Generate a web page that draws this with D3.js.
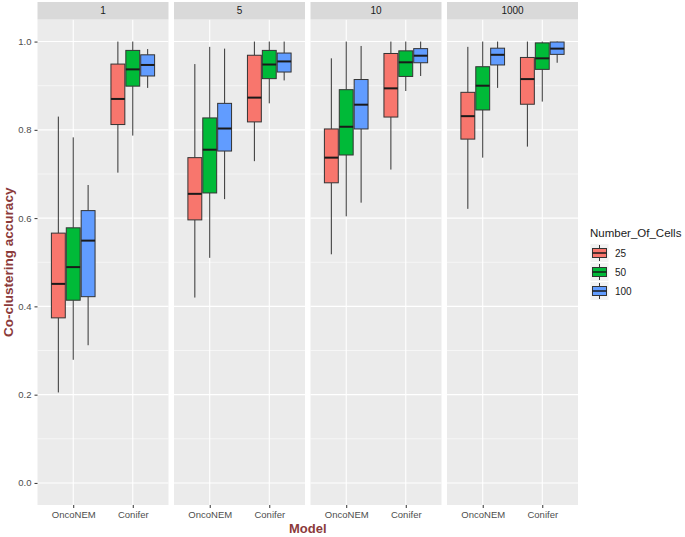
<!DOCTYPE html>
<html>
<head>
<meta charset="utf-8">
<script src="https://cdn.jsdelivr.net/npm/d3@7"></script>
<style>
  body { margin: 0; background: #fff; }
  svg { font-family: "Liberation Sans", Arial, sans-serif; }
</style>
</head>
<body>
<svg id="chart" width="685" height="537"></svg>
<script>
// facet / category / fill levels
var facets = ["1", "5", "10", "1000"];
var models = ["OncoNEM", "Conifer"];
var cells = ["25", "50", "100"];
var cellColors = ["#F8766D", "#00BA38", "#619CFF"];
var yTicks = [0, 0.2, 0.4, 0.6, 0.8, 1.0];

// box stats, order: facet > model > cells
var whiskerLow = [0.205, 0.279, 0.312, 0.703, 0.787, 0.895,
                  0.420, 0.510, 0.643, 0.729, 0.860, 0.912,
                  0.518, 0.604, 0.635, 0.710, 0.888, 0.922,
                  0.621, 0.737, 0.895, 0.762, 0.864, 0.952];
var q1 =         [0.374, 0.414, 0.422, 0.812, 0.899, 0.922,
                  0.596, 0.657, 0.752, 0.818, 0.916, 0.931,
                  0.680, 0.743, 0.802, 0.829, 0.921, 0.952,
                  0.779, 0.845, 0.947, 0.858, 0.937, 0.971];
var median =     [0.451, 0.489, 0.549, 0.870, 0.937, 0.947,
                  0.655, 0.755, 0.803, 0.873, 0.948, 0.955,
                  0.737, 0.807, 0.857, 0.894, 0.953, 0.968,
                  0.831, 0.900, 0.970, 0.915, 0.962, 0.984];
var q3 =         [0.566, 0.578, 0.617, 0.949, 0.980, 0.970,
                  0.737, 0.827, 0.860, 0.969, 0.980, 0.974,
                  0.802, 0.891, 0.914, 0.973, 0.979, 0.984,
                  0.885, 0.943, 0.985, 0.964, 0.997, 0.999];
var whiskerHigh = [0.830, 0.783, 0.675, 1.0, 1.0, 0.983,
                   0.949, 0.988, 0.984, 1.0, 1.0, 1.0,
                   0.962, 1.0, 0.990, 1.0, 1.0, 1.0,
                   0.988, 1.0, 1.0, 1.0, 1.0, 1.0];

var boxes = [];
var i = 0;
facets.forEach(function (f) {
    models.forEach(function (m) {
        cells.forEach(function (c) {
            boxes.push({facet: f, model: m, cell: c,
                lo: whiskerLow[i], q1: q1[i], med: median[i], q3: q3[i], hi: whiskerHigh[i]});
            i++;
        });
    });
});

var svg = d3.select("#chart");
var panelTop = 19.5, panelBottom = 505, stripTop = 2;

var fx = d3.scaleBand().domain(facets).range([37.5, 578]).paddingInner(5.5 / 136.5).paddingOuter(0);
var x = d3.scalePoint().domain(models).range([0, fx.bandwidth()]).padding(0.6);
var dodge = d3.scaleBand().domain(cells).range([-0.375 * x.step(), 0.375 * x.step()]);
var y = d3.scaleLinear().domain([-0.05, 1.05]).range([panelBottom, panelTop]);
var color = d3.scaleOrdinal().domain(cells).range(cellColors);

// -------------------------------------------------------------------
// panels
facets.forEach(function (f) {
    var g = svg.append("g").attr("transform", "translate(" + fx(f) + ",0)");
    var w = fx.bandwidth();

    g.append("rect").attr("x", 0).attr("y", panelTop).attr("width", w)
        .attr("height", panelBottom - panelTop).attr("fill", "#EBEBEB");

    // minor grid
    d3.range(0.1, 1.0, 0.2).forEach(function (v) {
        g.append("line").attr("x1", 0).attr("x2", w).attr("y1", y(v)).attr("y2", y(v))
            .attr("stroke", "#fff").attr("stroke-width", 0.55);
    });
    // major grid
    yTicks.forEach(function (v) {
        g.append("line").attr("x1", 0).attr("x2", w).attr("y1", y(v)).attr("y2", y(v))
            .attr("stroke", "#fff").attr("stroke-width", 1.1);
    });
    models.forEach(function (m) {
        g.append("line").attr("x1", x(m)).attr("x2", x(m)).attr("y1", panelTop).attr("y2", panelBottom)
            .attr("stroke", "#fff").attr("stroke-width", 1.1);
    });

    // strip
    g.append("rect").attr("x", 0).attr("y", stripTop).attr("width", w)
        .attr("height", panelTop - stripTop).attr("fill", "#D9D9D9");
    g.append("text").attr("x", w / 2).attr("y", (stripTop + panelTop) / 2 + 3.5)
        .attr("text-anchor", "middle").attr("font-size", 10).attr("fill", "#1A1A1A").text(f);

    // x axis
    var xAxis = g.append("g").attr("transform", "translate(0," + panelBottom + ")")
        .call(d3.axisBottom(x).tickSize(3).tickPadding(3));
    xAxis.select(".domain").remove();
    xAxis.selectAll("line").attr("stroke", "#333333");
    xAxis.selectAll("text").attr("font-size", 9.5).attr("fill", "#4D4D4D")
        .attr("font-family", "Liberation Sans, Arial, sans-serif");

    // boxes
    var bw = dodge.bandwidth();
    var b = g.selectAll("g.box").data(boxes.filter(function (d) { return d.facet === f; }))
        .enter().append("g").attr("class", "box")
        .attr("transform", function (d) { return "translate(" + (x(d.model) + dodge(d.cell)) + ",0)"; });

    b.append("line").attr("x1", bw / 2).attr("x2", bw / 2)
        .attr("y1", function (d) { return y(d.hi); }).attr("y2", function (d) { return y(d.q3); })
        .attr("stroke", "#333333").attr("stroke-width", 1);
    b.append("line").attr("x1", bw / 2).attr("x2", bw / 2)
        .attr("y1", function (d) { return y(d.q1); }).attr("y2", function (d) { return y(d.lo); })
        .attr("stroke", "#333333").attr("stroke-width", 1);
    b.append("rect").attr("x", 0.5).attr("width", bw - 1)
        .attr("y", function (d) { return y(d.q3); })
        .attr("height", function (d) { return Math.max(0.5, y(d.q1) - y(d.q3)); })
        .attr("fill", function (d) { return color(d.cell); })
        .attr("stroke", "#333333").attr("stroke-width", 1);
    b.append("line").attr("x1", 0.5).attr("x2", bw - 0.5)
        .attr("y1", function (d) { return y(d.med); }).attr("y2", function (d) { return y(d.med); })
        .attr("stroke", "#1A1A1A").attr("stroke-width", 2);
});

// y axis (left of first panel)
var yAxis = svg.append("g").attr("transform", "translate(" + fx(facets[0]) + ",0)")
    .call(d3.axisLeft(y).tickValues(yTicks).tickFormat(d3.format(".1f")).tickSize(3).tickPadding(3));
yAxis.select(".domain").remove();
yAxis.selectAll("line").attr("stroke", "#333333");
yAxis.selectAll("text").attr("font-size", 9.5).attr("fill", "#4D4D4D")
    .attr("font-family", "Liberation Sans, Arial, sans-serif");

// axis titles
svg.append("text").attr("transform", "translate(13," + ((panelTop + panelBottom) / 2) + ") rotate(-90)")
    .attr("text-anchor", "middle").attr("font-size", 13.5).attr("font-weight", "bold")
    .attr("fill", "#8B3A3A").text("Co-clustering accuracy");
svg.append("text").attr("x", (37.5 + 578) / 2).attr("y", 533)
    .attr("text-anchor", "middle").attr("font-size", 13).attr("font-weight", "bold")
    .attr("fill", "#8B3A3A").text("Model");

// legend
var legend = svg.append("g").attr("transform", "translate(590,0)");
legend.append("text").attr("x", 0).attr("y", 237).attr("font-size", 11.5).attr("fill", "#1A1A1A")
    .text("Number_Of_Cells");
var keys = legend.selectAll("g.key").data(cells).enter().append("g").attr("class", "key")
    .attr("transform", function (d, k) { return "translate(0," + (244 + k * 19) + ")"; });
keys.append("rect").attr("x", 0.5).attr("y", 0).attr("width", 18).attr("height", 18).attr("fill", "#F2F2F2");
keys.append("line").attr("x1", 9.5).attr("x2", 9.5).attr("y1", 1).attr("y2", 17)
    .attr("stroke", "#333333").attr("stroke-width", 1);
keys.append("rect").attr("x", 2.5).attr("y", 4.5).attr("width", 14).attr("height", 9)
    .attr("fill", function (d) { return color(d); }).attr("stroke", "#333333").attr("stroke-width", 1);
keys.append("line").attr("x1", 2.5).attr("x2", 16.5).attr("y1", 9).attr("y2", 9)
    .attr("stroke", "#1A1A1A").attr("stroke-width", 1.5);
keys.append("text").attr("x", 25).attr("y", 12.5).attr("font-size", 10).attr("fill", "#1A1A1A")
    .text(function (d) { return d; });
</script>
</body>
</html>
